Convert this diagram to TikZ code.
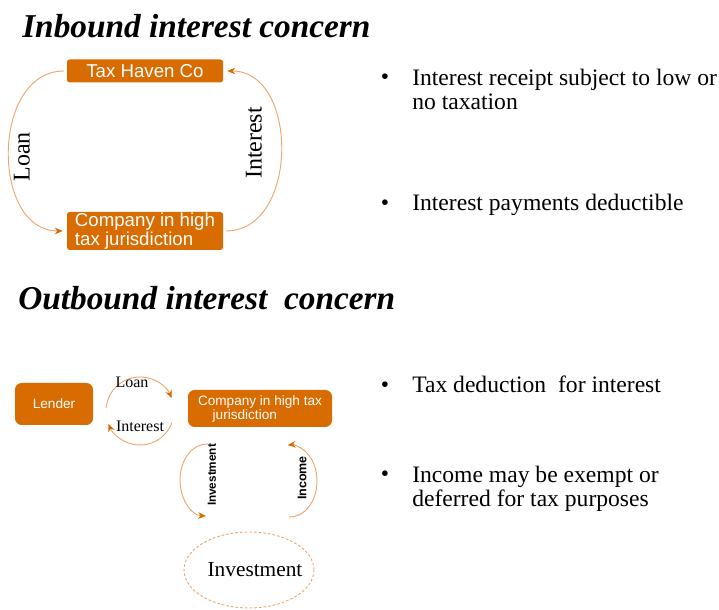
\documentclass[tikz,border=0pt]{standalone}
\usepackage{fontspec}
\setmainfont{Liberation Serif}
\setsansfont{Liberation Sans}
\definecolor{taxorange}{RGB}{217, 108, 0}
\definecolor{arcorange}{RGB}{240, 165, 110}
\usetikzlibrary{arrows.meta, shapes.geometric}
\tikzstyle{entity} = [fill=taxorange, text=white, rounded corners=2pt, inner sep=0pt,
                      font=\sffamily\fontsize{14}{14.25}\selectfont, align=left]
\tikzstyle{smallentity} = [entity, rounded corners=5pt, font=\sffamily\fontsize{10.2}{10.5}\selectfont]
\tikzstyle{flow} = [draw=arcorange, line width=0.7pt, -{Stealth[length=6pt, width=5pt, color=taxorange]}]
\tikzstyle{heading} = [font=\fontsize{25}{25}\selectfont\bfseries\itshape, anchor=west, inner sep=0pt]
\tikzstyle{point} = [font=\fontsize{17.7}{18}\selectfont, align=left, inner sep=0pt]
\tikzstyle{flowlabel} = [font=\fontsize{18}{18}\selectfont, inner sep=0pt, rotate=90]

\begin{document}
\begin{tikzpicture}[x=0.75pt, y=0.75pt]
  \useasboundingbox (0,0) rectangle (719,610);
  % inbound
  \node[heading] (inhead) at (22,584) {Inbound interest concern};
  \node[entity, minimum width=117pt, minimum height=17.25pt] (haven) at (145,539) {Tax Haven Co};
  \node[entity, minimum width=117pt, minimum height=28.5pt] (highco) at (145,379) {Company in high\\tax jurisdiction};
  \draw[flow, shorten <=2pt, shorten >=3pt] (haven.west) .. controls +(-76,0) and +(-76,0) .. (highco.west);
  \draw[flow, shorten <=2pt, shorten >=3pt] (highco.east) .. controls +(76,0) and +(76,0) .. (haven.east);
  \node[flowlabel] (inloan) at (22,453) {Loan};
  \node[flowlabel] (ininterest) at (254,467) {Interest};
  \node[point, anchor=base] (b1) at (385,525) {•};
  \node[point, anchor=north west] (t1) at (412,541) {Interest receipt subject to low or\\no taxation};
  \node[point, anchor=base] (b2) at (385,399) {•};
  \node[point, anchor=base west] (t2) at (412,399) {Interest payments deductible};
  % outbound
  \node[heading] (outhead) at (18,312) {Outbound interest \ concern};
  \node[smallentity, minimum width=58.5pt, minimum height=31.5pt, align=center] (lender) at (54,206) {Lender};
  \node[smallentity, minimum width=108pt, minimum height=27.75pt] (taxco) at (260,201.5) {Company in high tax\\\hspace*{11pt}jurisdiction};
  \coordinate (finloop) at (140,199);
  \draw[flow] ([shift={(175:34)}]finloop) arc[start angle=175, end angle=22, radius=34];
  \draw[flow] ([shift={(-20:34)}]finloop) arc[start angle=-20, end angle=-158, radius=34];
  \node[font=\fontsize{12}{12}\selectfont, inner sep=0pt] (outloan) at (132,228) {Loan};
  \node[font=\fontsize{12}{12}\selectfont, inner sep=0pt] (outinterest) at (140,184) {Interest};
  \coordinate (invloop) at (207,130);
  \coordinate (incloop) at (290,129);
  \draw[flow] ([shift={(88:27 and 36)}]invloop) arc[start angle=88, end angle=268, x radius=27, y radius=36];
  \draw[flow] ([shift={(-92:27 and 36)}]incloop) arc[start angle=-92, end angle=95, x radius=27, y radius=36];
  \node[font=\sffamily\bfseries\fontsize{8.8}{9}\selectfont, rotate=90, inner sep=0pt] (invlabel) at (212,135) {Investment};
  \node[font=\sffamily\bfseries\fontsize{9.4}{9}\selectfont, rotate=90, inner sep=0pt] (inclabel) at (302,132) {Income};
  \node[ellipse, draw=arcorange, line width=0.7pt, dash pattern=on 2pt off 1.5pt, minimum width=97.5pt,
        minimum height=57pt, inner sep=0pt] (invest) at (249,40) {};
  \node[font=\fontsize{16}{16}\selectfont, inner sep=0pt] (investlabel) at (255,40) {Investment};
  \node[point, anchor=base] (b3) at (385,217) {•};
  \node[point, anchor=base west] (t3) at (412,217) {Tax deduction \ for interest};
  \node[point, anchor=base] (b4) at (385,128) {•};
  \node[point, anchor=north west] (t4) at (412,144) {Income may be exempt or\\deferred for tax purposes};
\end{tikzpicture}
\end{document}
